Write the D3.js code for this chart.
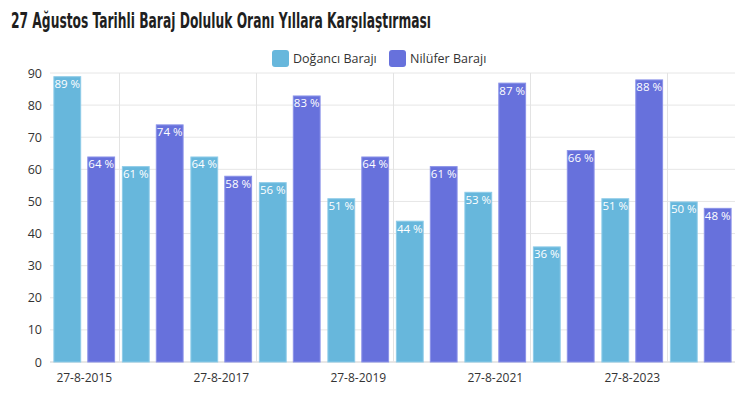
<!DOCTYPE html>
<html>
<head>
<meta charset="utf-8">
<script src="https://cdn.jsdelivr.net/npm/d3@7"></script>
<style>
  body { margin: 0; background: #fff; }
  text { font-family: "Open Sans", "Noto Sans", sans-serif; }
</style>
</head>
<body>
<div id="chart"></div>
<script>
let w = 750;
let h = 396;

let years = ["27-8-2015", "27-8-2016", "27-8-2017", "27-8-2018", "27-8-2019",
             "27-8-2020", "27-8-2021", "27-8-2022", "27-8-2023", "27-8-2024"];
let seriesNames = ["Doğancı Barajı", "Nilüfer Barajı"];
let doganci = [89, 61, 64, 56, 51, 44, 53, 36, 51, 50];
let nilufer = [64, 74, 58, 83, 64, 61, 87, 66, 88, 48];
let yTicks = [0, 10, 20, 30, 40, 50, 60, 70, 80, 90];
let colors = ["#67b7dc", "#6771dc"];
let strokes = ["#8dcbe8", "#8a92e8"];

let margin = {left: 50, right: 15, top: 73, bottom: 34};

let viz = d3.select("#chart")
  .append("svg")
  .attr("width", w)
  .attr("height", h)
;

// title (condensed look)
viz.append("text")
  .attr("x", 11)
  .attr("y", 28)
  .attr("textLength", 420)
  .attr("lengthAdjust", "spacingAndGlyphs")
  .style("font-family", "'DejaVu Sans', sans-serif")
  .style("font-stretch", "condensed")
  .style("font-weight", "bold")
  .style("font-size", "20.5px")
  .attr("fill", "#1f1f1f")
  .text("27 Ağustos Tarihli Baraj Doluluk Oranı Yıllara Karşılaştırması")
;

// scales
let xScale = d3.scaleBand().domain(years).range([margin.left, w - margin.right]);
let xInner = d3.scaleBand().domain(seriesNames).range([0, xScale.bandwidth()]).paddingInner(0.18).paddingOuter(0.1);
let yScale = d3.scaleLinear().domain([0, 90]).range([h - margin.bottom, margin.top]);

// horizontal grid
viz.append("g").selectAll("line").data(yTicks).enter()
  .append("line")
  .attr("x1", margin.left)
  .attr("x2", w - margin.right)
  .attr("y1", d => yScale(d))
  .attr("y2", d => yScale(d))
  .attr("stroke", d => d == 0 ? "#cfcfcf" : "#e6e6e6")
;

// vertical grid between labelled categories
viz.append("g").selectAll("line").data(years.filter((d, i) => i % 2 == 1)).enter()
  .append("line")
  .attr("x1", d => Math.round(xScale(d)) + 0.5)
  .attr("x2", d => Math.round(xScale(d)) + 0.5)
  .attr("y1", yScale(90))
  .attr("y2", yScale(0))
  .attr("stroke", "#e3e3e3")
;

// y axis labels
let yAxis = d3.axisLeft(yScale).tickValues(yTicks).tickSize(0).tickPadding(8);
let yAxisGroup = viz.append("g")
  .attr("transform", "translate(" + margin.left + ",0)")
  .call(yAxis);
yAxisGroup.select(".domain").remove();
yAxisGroup.selectAll("text").style("font-size", "12.5px").attr("fill", "#333");

// x axis labels
let xAxis = d3.axisBottom(xScale).tickValues(years.filter((d, i) => i % 2 == 0)).tickSize(0).tickPadding(11);
let xAxisGroup = viz.append("g")
  .attr("transform", "translate(0," + yScale(0) + ")")
  .call(xAxis);
xAxisGroup.select(".domain").remove();
xAxisGroup.selectAll("text").style("font-size", "12px").attr("fill", "#333");

// bars
let rows = [];
years.forEach((y, i) => {
  rows.push({year: y, s: 0, value: doganci[i]});
  rows.push({year: y, s: 1, value: nilufer[i]});
});

let barGroups = viz.selectAll(".bar").data(rows).enter()
  .append("g")
  .attr("class", "bar")
  .attr("transform", d => "translate(" + (xScale(d.year) + xInner(seriesNames[d.s])) + ",0)")
;

barGroups.append("rect")
  .attr("x", 0.5)
  .attr("y", d => yScale(d.value) + 0.5)
  .attr("width", xInner.bandwidth() - 1)
  .attr("height", d => yScale(0) - yScale(d.value) - 0.5)
  .attr("fill", d => colors[d.s])
  .attr("stroke", d => strokes[d.s])
  .attr("stroke-width", 1)
;

barGroups.append("text")
  .attr("x", xInner.bandwidth() / 2)
  .attr("y", d => yScale(d.value) + 12)
  .attr("text-anchor", "middle")
  .style("font-size", "11.5px")
  .attr("fill", "#fff")
  .text(d => d.value + " %")
;

// legend
let legendX = [272, 389];
let legend = viz.selectAll(".legend").data(seriesNames).enter()
  .append("g")
  .attr("class", "legend")
  .attr("transform", (d, i) => "translate(" + legendX[i] + ",50)")
;
legend.append("rect")
  .attr("width", 17)
  .attr("height", 17)
  .attr("rx", 3)
  .attr("fill", (d, i) => colors[i])
;
legend.append("text")
  .attr("x", 21)
  .attr("y", 13)
  .style("font-size", "12.5px")
  .attr("fill", "#333")
  .text(d => d)
;
</script>
</body>
</html>
